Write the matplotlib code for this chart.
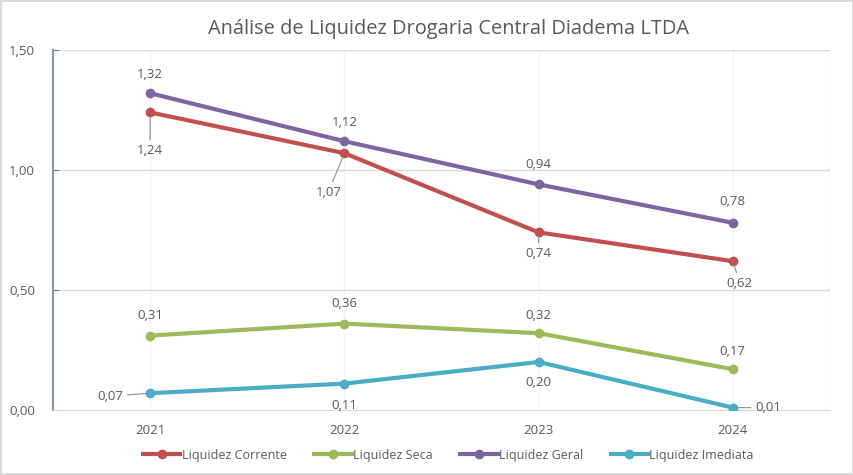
import matplotlib
matplotlib.use("Agg")
import matplotlib.pyplot as plt

years = ["2021", "2022", "2023", "2024"]
corrente = [1.24, 1.07, 0.74, 0.62]
seca = [0.31, 0.36, 0.32, 0.17]
geral = [1.32, 1.12, 0.94, 0.78]
imediata = [0.07, 0.11, 0.20, 0.01]
yticks = [0.0, 0.5, 1.0, 1.5]
ytick_labels = ["0,00", "0,50", "1,00", "1,50"]
title = "Análise de Liquidez Drogaria Central Diadema LTDA"

plt.rcParams['font.family'] = ['Open Sans', 'DejaVu Sans']

fig = plt.figure(figsize=(8.54, 4.75), dpi=100)
fig.patch.set_edgecolor('#d9d9d9')
fig.patch.set_linewidth(1.5)
ax = fig.add_axes([53/854, 1-410/475, (830-53)/854, 360/475])

x = list(range(len(years)))
series = [
    ("Liquidez Corrente", corrente, '#C0504D'),
    ("Liquidez Seca", seca, '#9BBB59'),
    ("Liquidez Geral", geral, '#8064A2'),
    ("Liquidez Imediata", imediata, '#4BACC6'),
]
for name, vals, c in series:
    ax.plot(x, vals, color=c, lw=3, marker='o', ms=6, label=name, zorder=3)

ax.set_xlim(-0.5, 3.5)
ax.set_ylim(0, 1.5)
ax.set_yticks(yticks)
ax.set_yticklabels(ytick_labels)
ax.set_xticks(x)
ax.set_xticklabels(years)
ax.tick_params(axis='y', colors='#808080', labelcolor='#595959', labelsize=9.5, length=4, direction='in', pad=13)
ax.tick_params(axis='x', length=0, labelcolor='#595959', labelsize=9.5, pad=10)

ax.grid(axis='y', color='#d9d9d9', lw=1)
for xi in x:
    ax.axvline(xi, color='#f3f3f3', lw=1, zorder=0)
ax.axvline(3.5, color='#ececec', lw=1, zorder=0)
for s in ['top', 'right']:
    ax.spines[s].set_visible(False)
ax.spines['bottom'].set_color('#d9d9d9')
ax.spines['left'].set_color('#8497b0')
ax.spines['left'].set_linewidth(1.5)
ax.set_axisbelow(True)

lab_color = '#595959'
fs = 9.5
def lbl(v):
    return f"{v:.2f}".replace('.', ',')

# offsets in pixels
off_corr = [(0, -38), (-16, -39), (0, -21), (7, -22)]
off_geral = [(0, 19), (0, 19), (0, 20), (0, 21)]
off_seca = [(0, 20), (0, 20), (0, 18), (0, 18)]
off_imed = [(-40, -3), (0, -22), (0, -20), (35, 0)]
lead_corr = [True, True, True, True]
lead_imed = [True, False, False, True]

def annot(vals, offs, leads=None):
    for i, (v, o) in enumerate(zip(vals, offs)):
        kw = {}
        if leads and leads[i]:
            kw['arrowprops'] = dict(arrowstyle='-', color='#999999', lw=0.9, shrinkA=1, shrinkB=3)
        ax.annotate(lbl(v), (i, v), xytext=o, textcoords='offset pixels',
                    ha='center', va='center', fontsize=fs, color=lab_color, zorder=5, **kw)

annot(corrente, off_corr, lead_corr)
annot(geral, off_geral)
annot(seca, off_seca)
annot(imediata, off_imed, lead_imed)

fig.text(449/854, 1-29/475, title, ha='center', va='center', fontsize=14.4, color='#595959')

leg = fig.legend(loc='center', bbox_to_anchor=(0.525, 1-455/475), ncol=4, frameon=False,
                 fontsize=9, handlelength=3, columnspacing=2.2, handletextpad=0.1, labelcolor='#595959')

fig.savefig('out.png', dpi=100)
